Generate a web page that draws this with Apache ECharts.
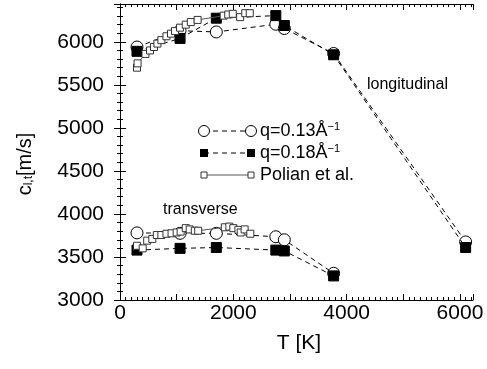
<!DOCTYPE html>
<html>
<head>
<meta charset="utf-8">
<script src="https://cdn.jsdelivr.net/npm/echarts@6/dist/echarts.min.js"></script>
<style>
html,body{margin:0;padding:0;background:#fff;}
#chart{width:487px;height:369px;}
</style>
</head>
<body>
<div id="chart"></div>
<script>
// Data
const tempQ = [300, 1060, 1700, 2750, 2900, 3770, 6100];
const longQ013 = [5940, 6130, 6115, 6205, 6155, 5865, 3675];
const longQ018 = [5890, 6040, 6275, 6305, 6190, 5850, 3610];

const tempQT = [300, 1060, 1700, 2750, 2900, 3770];
const transQ013 = [3780, 3775, 3775, 3735, 3700, 3310];
const transQ018 = [3580, 3600, 3610, 3580, 3570, 3280];

const tempPolianL = [300, 310, 450, 530, 600, 660, 730, 820, 900, 970, 1060, 1160, 1250, 1370, 1830, 1910, 1990, 2120, 2210, 2290];
const polianL = [5700, 5750, 5860, 5900, 5940, 5980, 6020, 6065, 6095, 6125, 6165, 6200, 6230, 6255, 6305, 6318, 6326, 6287, 6333, 6333];

const tempPolianT = [300, 400, 480, 570, 650, 730, 820, 910, 1000, 1070, 1160, 1230, 1320, 1380, 1850, 1930, 2000, 2090, 2130, 2200, 2300];
const polianT = [3630, 3600, 3690, 3710, 3755, 3755, 3770, 3775, 3785, 3795, 3835, 3820, 3805, 3805, 3845, 3853, 3835, 3815, 3785, 3820, 3770];

const xTickLabels = [0, 2000, 4000, 6000];
const yTickLabels = [3000, 3500, 4000, 4500, 5000, 5500, 6000];

const FONT = "'Liberation Sans', Arial, Helvetica, sans-serif";
const pairs = (xs, ys) => xs.map((x, i) => [x, ys[i]]);

const chart = echarts.init(document.getElementById('chart'), null, {renderer: 'canvas'});

const X_MIN = 0, X_MAX = 6230, Y_MIN = 3000, Y_MAX = 6440;

const circleSeries = (name, data) => ({
  name, type: 'line', data, symbol: 'circle', symbolSize: 12,
  itemStyle: {color: '#fff', borderColor: '#000', borderWidth: 1},
  lineStyle: {color: '#000', width: 1, type: [5, 4]},
  z: 2, animation: false
});
const filledSeries = (name, data) => ({
  name, type: 'line', data, symbol: 'rect', symbolSize: 10,
  itemStyle: {color: '#000', borderColor: '#000', borderWidth: 1},
  lineStyle: {color: '#000', width: 1, type: [5, 4]},
  z: 3, animation: false
});
const polianSeries = (name, data) => ({
  name, type: 'line', data, symbol: 'rect', symbolSize: 7,
  itemStyle: {color: '#fff', borderColor: '#333', borderWidth: 1},
  lineStyle: {color: '#555', width: 1, type: 'solid'},
  z: 4, animation: false
});

const legendRow = (y, kind, rich, textStr) => {
  const children = [];
  const x1 = 204, x2 = 251;
  children.push({type: 'line', shape: {x1, y1: y, x2, y2: y},
    style: {stroke: kind === 'polian' ? '#555' : '#000', lineWidth: 1, lineDash: kind === 'polian' ? null : [5, 4]}});
  [x1, x2].forEach(cx => {
    if (kind === 'circle') children.push({type: 'circle', shape: {cx, cy: y, r: 5.5}, style: {fill: '#fff', stroke: '#000', lineWidth: 1}});
    else if (kind === 'filled') children.push({type: 'rect', shape: {x: cx - 4, y: y - 4, width: 8, height: 8}, style: {fill: '#000'}});
    else children.push({type: 'rect', shape: {x: cx - 3, y: y - 3, width: 6, height: 6}, style: {fill: '#fff', stroke: '#333', lineWidth: 1}});
  });
  children.push({type: 'text', x: 260, y: y, style: {text: textStr, rich: rich, font: '18px ' + FONT, fill: '#000', verticalAlign: 'middle', align: 'left'}});
  return {type: 'group', children, z: 10};
};
const supRich = {
  a: {fontSize: 18, fontFamily: FONT, color: '#000'},
  s: {fontSize: 11, fontFamily: FONT, color: '#000', verticalAlign: 'top', padding: [0, 0, 9, 0]}
};

const option = {
  backgroundColor: '#fff',
  animation: false,
  grid: {left: 120, right: 14, top: 4, bottom: 69, containLabel: false},
  xAxis: [
    {
      type: 'value', position: 'bottom', min: X_MIN, max: X_MAX, interval: 1000,
      axisLine: {lineStyle: {color: '#000', width: 1}},
      axisTick: {inside: true, length: 6, lineStyle: {color: '#000'}},
      minorTick: {show: true, splitNumber: 10, length: 3, lineStyle: {color: '#000'}},
      splitLine: {show: false},
      axisLabel: {
        margin: 3, fontSize: 21, fontFamily: FONT, color: '#000',
        formatter: v => xTickLabels.includes(v) ? String(v) : ''
      },
      name: 'T [K]', nameLocation: 'middle', nameGap: 33,
      nameTextStyle: {fontSize: 21, fontFamily: FONT, color: '#000', padding: [0, 0, 0, 5]}
    },
    {
      type: 'value', position: 'top', min: X_MIN, max: X_MAX, interval: 1000,
      axisLine: {lineStyle: {color: '#000', width: 1}},
      axisTick: {inside: true, length: 6, lineStyle: {color: '#000'}},
      minorTick: {show: true, splitNumber: 10, length: 3, lineStyle: {color: '#000'}},
      splitLine: {show: false}, axisLabel: {show: false}
    }
  ],
  yAxis: [
    {
      type: 'value', position: 'left', min: Y_MIN, max: Y_MAX, interval: 500,
      axisLine: {lineStyle: {color: '#000', width: 1}},
      axisTick: {inside: true, length: 6, lineStyle: {color: '#000'}},
      minorTick: {show: true, splitNumber: 5, length: 3, lineStyle: {color: '#000'}},
      splitLine: {show: false},
      axisLabel: {
        margin: 16, fontSize: 21, fontFamily: FONT, color: '#000',
        formatter: v => yTickLabels.includes(v) ? String(v) : ''
      }
    },
    {
      type: 'value', position: 'right', min: Y_MIN, max: Y_MAX, interval: 500,
      axisLine: {lineStyle: {color: '#000', width: 1}},
      axisTick: {inside: true, length: 6, lineStyle: {color: '#000'}},
      minorTick: {show: true, splitNumber: 5, length: 3, lineStyle: {color: '#000'}},
      splitLine: {show: false}, axisLabel: {show: false}
    },
    {
      type: 'value', position: 'left', min: Y_MIN, max: Y_MAX, interval: 500,
      axisLine: {show: false},
      axisTick: {inside: false, length: 5, lineStyle: {color: '#000'}},
      splitLine: {show: false}, axisLabel: {show: false}
    }
  ],
  series: [
    circleSeries('q013L', pairs(tempQ, longQ013)),
    circleSeries('q013T', pairs(tempQT, transQ013)),
    filledSeries('q018L', pairs(tempQ, longQ018)),
    filledSeries('q018T', pairs(tempQT, transQ018)),
    polianSeries('polianL', pairs(tempPolianL, polianL)),
    polianSeries('polianT', pairs(tempPolianT, polianT))
  ],
  graphic: [
    {type: 'text', x: 367, y: 85, z: 10, style: {text: 'longitudinal', font: '16px ' + FONT, fill: '#000', verticalAlign: 'middle'}},
    {type: 'text', x: 163, y: 210, z: 10, style: {text: 'transverse', font: '16px ' + FONT, fill: '#000', verticalAlign: 'middle'}},
    legendRow(131, 'circle', supRich, '{a|q=0.13Å}{s|−1}'),
    legendRow(153, 'filled', supRich, '{a|q=0.18Å}{s|−1}'),
    legendRow(175, 'polian', supRich, '{a|Polian et al.}'),
    {type: 'text', x: 25, y: 164, rotation: Math.PI / 2, z: 10,
      style: {text: '{n|c}{s|l,t}{n|[m/s]}', align: 'center', verticalAlign: 'middle',
        rich: {
          n: {fontSize: 20, fontFamily: FONT, color: '#000'},
          s: {fontSize: 12, fontFamily: FONT, color: '#000', verticalAlign: 'bottom', padding: [8, 0, 0, 0]}
        }}}
  ]
};
chart.setOption(option);
</script>
</body>
</html>
